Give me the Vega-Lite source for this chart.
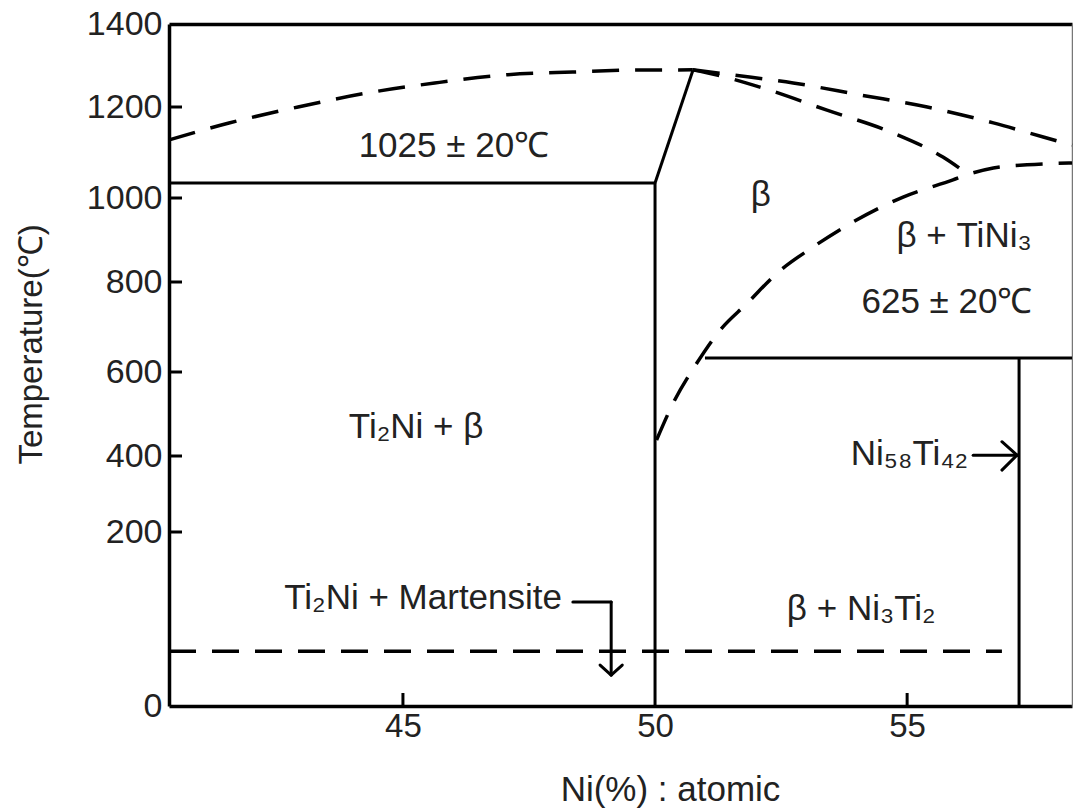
{
  "$schema": "https://vega.github.io/schema/vega-lite/v6.json",
  "width": 903,
  "height": 682,
  "autosize": {"type": "none"},
  "padding": {"left": 169, "top": 24, "right": 1, "bottom": 102},
  "background": "white",
  "config": {"view": {"stroke": null}, "font": "Liberation Sans"},
  "datasets": {
    "solid": [
      {"x1": 40.36, "y1": 1033, "x2": 50, "y2": 1033},
      {"x1": 50, "y1": 1033, "x2": 50.75, "y2": 1288},
      {"x1": 50, "y1": 1033, "x2": 50, "y2": 0},
      {"x1": 50.99, "y1": 631, "x2": 58.27, "y2": 631},
      {"x1": 57.22, "y1": 631, "x2": 57.22, "y2": 0}
    ],
    "arrows": [
      {"x1": 48.37, "y1": 119.5, "x2": 49.13, "y2": 119.5},
      {"x1": 49.13, "y1": 119.5, "x2": 49.13, "y2": 35.6},
      {"x1": 48.91, "y1": 47.1, "x2": 49.13, "y2": 35.6},
      {"x1": 49.35, "y1": 47.1, "x2": 49.13, "y2": 35.6},
      {"x1": 56.31, "y1": 402, "x2": 57.18, "y2": 402},
      {"x1": 56.88, "y1": 434, "x2": 57.18, "y2": 402},
      {"x1": 56.88, "y1": 363, "x2": 57.18, "y2": 402}
    ],
    "xticks": [
      {"x": 45, "y": 0},
      {"x": 55, "y": 0}
    ],
    "yticks": [
      {"x": 40.36, "y": 200},
      {"x": 40.36, "y": 400},
      {"x": 40.36, "y": 600},
      {"x": 40.36, "y": 800},
      {"x": 40.36, "y": 1000},
      {"x": 40.36, "y": 1200}
    ],
    "dashed": [
      {"curve": "A", "i": 0, "x": 40.36, "y": 1127.5},
      {"curve": "A", "i": 1, "x": 41.55, "y": 1164.8},
      {"curve": "A", "i": 2, "x": 42.92, "y": 1200},
      {"curve": "A", "i": 3, "x": 44.29, "y": 1233.7},
      {"curve": "A", "i": 4, "x": 45.63, "y": 1257.8},
      {"curve": "A", "i": 5, "x": 47.0, "y": 1277.1},
      {"curve": "A", "i": 6, "x": 48.37, "y": 1284.3},
      {"curve": "A", "i": 7, "x": 49.74, "y": 1289.2},
      {"curve": "A", "i": 8, "x": 50.75, "y": 1289.5},
      {"curve": "B", "i": 0, "x": 50.75, "y": 1289.5},
      {"curve": "B", "i": 1, "x": 51.55, "y": 1277},
      {"curve": "B", "i": 2, "x": 52.74, "y": 1258},
      {"curve": "B", "i": 3, "x": 54.07, "y": 1229},
      {"curve": "B", "i": 4, "x": 55.4, "y": 1200},
      {"curve": "B", "i": 5, "x": 56.71, "y": 1165},
      {"curve": "B", "i": 6, "x": 57.7, "y": 1134},
      {"curve": "B", "i": 7, "x": 58.27, "y": 1116},
      {"curve": "C", "i": 0, "x": 50.75, "y": 1289.5},
      {"curve": "C", "i": 1, "x": 51.23, "y": 1277},
      {"curve": "C", "i": 2, "x": 52.08, "y": 1248},
      {"curve": "C", "i": 3, "x": 53.41, "y": 1193},
      {"curve": "C", "i": 4, "x": 54.72, "y": 1143},
      {"curve": "C", "i": 5, "x": 55.71, "y": 1090},
      {"curve": "C", "i": 6, "x": 56.21, "y": 1052},
      {"curve": "E", "i": 0, "x": 50.03, "y": 438},
      {"curve": "E", "i": 1, "x": 50.36, "y": 526},
      {"curve": "E", "i": 2, "x": 50.83, "y": 620},
      {"curve": "E", "i": 3, "x": 51.29, "y": 693},
      {"curve": "E", "i": 4, "x": 51.83, "y": 753},
      {"curve": "E", "i": 5, "x": 52.42, "y": 821},
      {"curve": "E", "i": 6, "x": 53.13, "y": 883},
      {"curve": "E", "i": 7, "x": 53.93, "y": 943},
      {"curve": "E", "i": 8, "x": 54.92, "y": 1002},
      {"curve": "E", "i": 9, "x": 55.91, "y": 1040},
      {"curve": "E", "i": 10, "x": 56.21, "y": 1052},
      {"curve": "E", "i": 11, "x": 56.71, "y": 1066},
      {"curve": "E", "i": 12, "x": 57.38, "y": 1073},
      {"curve": "E", "i": 13, "x": 58.27, "y": 1077},
      {"curve": "F", "i": 0, "x": 40.36, "y": 63},
      {"curve": "F", "i": 1, "x": 56.88, "y": 63}
    ],
    "labels": [
      {"label": "1025 ± 20℃", "x": 46.01, "y": 1090},
      {"label": "β", "x": 52.1, "y": 981},
      {"label": "β + TiNi₃", "x": 56.13, "y": 883},
      {"label": "625 ± 20℃", "x": 55.79, "y": 731},
      {"label": "Ti₂Ni + β", "x": 45.26, "y": 443},
      {"label": "Ti₂Ni + Martensite", "x": 45.4, "y": 111.5},
      {"label": "β + Ni₃Ti₂", "x": 54.09, "y": 98.9}
    ],
    "rlabels": [
      {"label": "Ni₅₈Ti₄₂", "x": 56.21, "y": 376}
    ]
  },
  "layer": [
    {
      "data": {"name": "solid"},
      "mark": {"type": "rule", "strokeWidth": 3, "color": "black"},
      "encoding": {
        "x": {
          "field": "x1", "type": "quantitative",
          "scale": {"domain": [40.36, 58.27], "nice": false, "zero": false},
          "axis": {
            "orient": "bottom", "values": [45, 50, 55], "format": "d",
            "title": "Ni(%) : atomic", "ticks": false, "grid": false,
            "domainColor": "black", "domainWidth": 3.5,
            "labelFont": "Liberation Sans", "labelFontSize": 33, "labelColor": "#222", "labelPadding": 4,
            "titleFont": "Liberation Sans", "titleFontSize": 35, "titleFontWeight": "normal", "titleColor": "#222",
            "titleX": 501, "titleY": 94, "titleAlign": "center", "titleBaseline": "alphabetic"
          }
        },
        "y": {
          "field": "y1", "type": "quantitative",
          "scale": {"domain": [0, 200, 400, 600, 800, 1000, 1200, 1400], "range": [682, 508, 432, 348, 258, 174, 83, 0], "nice": false, "zero": false},
          "axis": {
            "orient": "left", "values": [0, 200, 400, 600, 800, 1000, 1200, 1400], "format": "d",
            "title": "Temperature(℃)", "ticks": false, "grid": false,
            "domainColor": "black", "domainWidth": 3.5,
            "labelFont": "Liberation Sans", "labelFontSize": 34, "labelColor": "#222", "labelPadding": 7,
            "titleFont": "Liberation Sans", "titleFontSize": 33, "titleFontWeight": "normal", "titleColor": "#222",
            "titleX": -128, "titleY": 320, "titleAngle": 270, "titleAlign": "center", "titleBaseline": "alphabetic"
          }
        },
        "x2": {"field": "x2"},
        "y2": {"field": "y2"}
      }
    },
    {
      "data": {"name": "dashed"},
      "mark": {"type": "line", "strokeDash": [27, 16], "strokeWidth": 3.5, "color": "black", "interpolate": "monotone"},
      "encoding": {
        "x": {
          "field": "x", "type": "quantitative",
          "scale": {"domain": [40.36, 58.27], "nice": false, "zero": false},
          "axis": {"orient": "top", "labels": false, "ticks": false, "grid": false, "title": null, "domainColor": "black", "domainWidth": 3.5}
        },
        "y": {
          "field": "y", "type": "quantitative",
          "scale": {"domain": [0, 200, 400, 600, 800, 1000, 1200, 1400], "range": [682, 508, 432, 348, 258, 174, 83, 0], "nice": false, "zero": false},
          "axis": {"orient": "right", "labels": false, "ticks": false, "grid": false, "title": null, "domainColor": "#777", "domainWidth": 1.5}
        },
        "detail": {"field": "curve"},
        "order": {"field": "i", "type": "quantitative"}
      }
    },
    {
      "data": {"name": "arrows"},
      "mark": {"type": "rule", "strokeWidth": 3, "color": "black", "strokeCap": "round"},
      "encoding": {
        "x": {"field": "x1", "type": "quantitative", "scale": {"domain": [40.36, 58.27], "nice": false, "zero": false}, "axis": null},
        "y": {"field": "y1", "type": "quantitative", "scale": {"domain": [0, 200, 400, 600, 800, 1000, 1200, 1400], "range": [682, 508, 432, 348, 258, 174, 83, 0], "nice": false, "zero": false}, "axis": null},
        "x2": {"field": "x2"},
        "y2": {"field": "y2"}
      }
    },
    {
      "data": {"name": "xticks"},
      "mark": {"type": "tick", "orient": "vertical", "size": 13, "thickness": 3, "color": "black", "opacity": 1, "yOffset": -6.5},
      "encoding": {
        "x": {"field": "x", "type": "quantitative", "scale": {"domain": [40.36, 58.27], "nice": false, "zero": false}, "axis": null},
        "y": {"field": "y", "type": "quantitative", "scale": {"domain": [0, 200, 400, 600, 800, 1000, 1200, 1400], "range": [682, 508, 432, 348, 258, 174, 83, 0], "nice": false, "zero": false}, "axis": null}
      }
    },
    {
      "data": {"name": "yticks"},
      "mark": {"type": "tick", "orient": "horizontal", "size": 13, "thickness": 3, "color": "black", "opacity": 1, "xOffset": 6.5},
      "encoding": {
        "x": {"field": "x", "type": "quantitative", "scale": {"domain": [40.36, 58.27], "nice": false, "zero": false}, "axis": null},
        "y": {"field": "y", "type": "quantitative", "scale": {"domain": [0, 200, 400, 600, 800, 1000, 1200, 1400], "range": [682, 508, 432, 348, 258, 174, 83, 0], "nice": false, "zero": false}, "axis": null}
      }
    },
    {
      "data": {"name": "labels"},
      "mark": {"type": "text", "font": "Liberation Sans", "fontSize": 35, "color": "#222", "align": "center", "baseline": "alphabetic"},
      "encoding": {
        "x": {"field": "x", "type": "quantitative", "scale": {"domain": [40.36, 58.27], "nice": false, "zero": false}, "axis": null},
        "y": {"field": "y", "type": "quantitative", "scale": {"domain": [0, 200, 400, 600, 800, 1000, 1200, 1400], "range": [682, 508, 432, 348, 258, 174, 83, 0], "nice": false, "zero": false}, "axis": null},
        "text": {"field": "label"}
      }
    },
    {
      "data": {"name": "rlabels"},
      "mark": {"type": "text", "font": "Liberation Sans", "fontSize": 35, "color": "#222", "align": "right", "baseline": "alphabetic"},
      "encoding": {
        "x": {"field": "x", "type": "quantitative", "scale": {"domain": [40.36, 58.27], "nice": false, "zero": false}, "axis": null},
        "y": {"field": "y", "type": "quantitative", "scale": {"domain": [0, 200, 400, 600, 800, 1000, 1200, 1400], "range": [682, 508, 432, 348, 258, 174, 83, 0], "nice": false, "zero": false}, "axis": null},
        "text": {"field": "label"}
      }
    }
  ],
  "resolve": {"axis": {"x": "independent", "y": "independent"}}
}
